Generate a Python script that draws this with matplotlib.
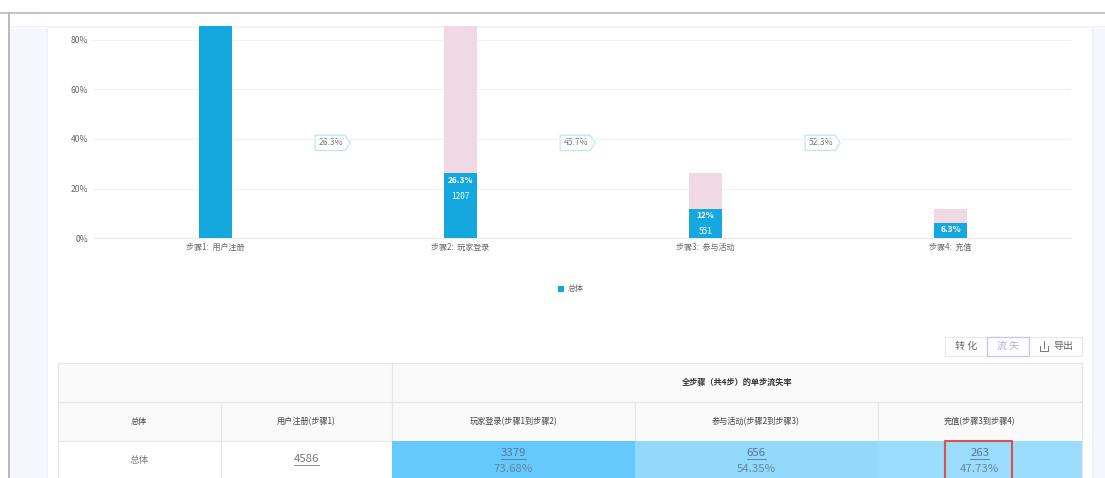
import matplotlib
matplotlib.use("Agg")
from matplotlib import pyplot as plt
from matplotlib.patches import Polygon, Rectangle

plt.rcParams['font.family'] = ['Noto Sans CJK SC', 'DejaVu Sans']

steps = ["步骤1:  用户注册", "步骤2:  玩家登录", "步骤3:  参与活动", "步骤4:  充值"]
overall = [100, 26.3, 12, 6.3]
previous = [100, 100, 26.3, 12]
bar_labels = [None, "26.3%", "12%", "6.3%"]
bar_counts = [None, "1207", "551", None]
tags = ["26.3%", "45.7%", "52.3%"]
yticks = [0, 20, 40, 60, 80]
legend_name = "总体"

table_title = "全步骤（共4步）的单步流失率"
col_x = [58, 220.5, 392, 634.5, 877.5, 1082]
col_heads = ["总体", "用户注册(步骤1)", "玩家登录(步骤1到步骤2)", "参与活动(步骤2到步骤3)", "充值(步骤3到步骤4)"]
row_name = "总体"
first_count = "4586"
loss_counts = ["3379", "656", "263"]
loss_rates = ["73.68%", "54.35%", "47.73%"]
loss_colors = ["#66c9fd", "#92d9fc", "#9bdcfd"]
buttons = ["转 化", "流 失", "导出"]

BLUE = "#14a8df"
PINK = "#f1d8e5"
GREY = "#777777"
LINE = "#e6e6e6"

fig = plt.figure(figsize=(11.05, 4.78), dpi=100)

# whole page in pixel coordinates, the chart axes go on top
page = fig.add_axes([0, 0, 1, 1], zorder=1)
page.set_xlim(0, 1105)
page.set_ylim(478, 0)
page.axis("off")


def box(x0, y0, x1, y1, color, ec="none", lw=0.0, zorder=1):
    page.add_patch(Rectangle((x0, y0), x1 - x0, y1 - y0, fc=color, ec=ec, lw=lw, zorder=zorder))


# page frame
box(8, 13, 48, 478, "#f6f7fe")
box(1092, 13, 1105, 478, "#f6f7fe")
box(45.5, 26, 48, 478, "#f0f1fa")
box(1092, 26, 1094, 478, "#eff0f9")
box(8, 13, 1105, 26, "white")
for i, c in enumerate(["#f4f4f6", "#f8f8fa", "#fcfcfd"]):
    box(8, 26 + i, 1105, 27 + i, c)
page.plot([0, 1105], [12.7, 12.7], color="#b4b4b4", lw=1.1)
page.plot([8.5, 8.5], [12.7, 478], color="#b9b9b9", lw=1.4)
page.text(14, 13.5, "· · ·", color="#bbbbbb", fontsize=5, va="center")

# chart
ax = fig.add_axes([93 / 1105, 1 - 238.3 / 478, 978 / 1105, 212.3 / 478], zorder=2)
ax.patch.set_alpha(0)
ax.set_xlim(-0.5, 3.492)
ax.set_ylim(0, 85.5)
ax.bar(range(4), previous, width=0.133, color=PINK, zorder=2)
ax.bar(range(4), overall, width=0.133, color=BLUE, zorder=3)
ax.set_yticks(yticks, [f"{v}%" for v in yticks])
ax.set_xticks(range(4), steps)
ax.tick_params(axis="y", length=0, labelsize=6.2, labelcolor="#666666", pad=3.5)
ax.tick_params(axis="x", length=0, labelsize=5.8, labelcolor="#666666", pad=3)
ax.grid(axis="y", color="#f1f1f3", lw=0.8, zorder=1)
ax.set_axisbelow(True)
for s in ax.spines.values():
    s.set_visible(False)
ax.spines["bottom"].set_visible(True)
ax.spines["bottom"].set_color("#e8e8ee")
ax.spines["bottom"].set_linewidth(0.8)
for i in range(4):
    if bar_labels[i]:
        ax.annotate(bar_labels[i], (i, overall[i]), xytext=(0, -5.2), textcoords="offset points",
                    ha="center", va="center", color="white", fontsize=6, fontweight="bold", zorder=4)
    if bar_counts[i]:
        ax.annotate(bar_counts[i], (i, overall[i]), xytext=(0, -16.6), textcoords="offset points",
                    ha="center", va="center", color="white", fontsize=6, zorder=4)

# arrow tags between the bars
fig.canvas.draw()
for i, tag in enumerate(tags):
    cx = ax.transData.transform((i + 0.478, 0))[0]
    y0, y1 = 135.2, 150.5
    x0, x1 = cx - 17.5, cx + 17.5
    page.add_patch(Polygon([(x0, y0), (x1 - 5, y0), (x1, (y0 + y1) / 2), (x1 - 5, y1), (x0, y1)],
                           closed=True, fc="white", ec="#bfe6f2", lw=0.9, zorder=5))
    page.text(cx - 1.5, 142.5, tag, ha="center", va="center", fontsize=6.2, color=GREY, zorder=6)

# legend
box(558, 286, 564, 292, BLUE)
page.text(567.5, 288.5, legend_name, fontsize=5.8, color="#666666", va="center")

# buttons
btn_x = [944.5, 987, 1028.5, 1082]
box(btn_x[0], 336.5, btn_x[3], 355.5, "white", ec="#e8e8e8", lw=0.8)
box(btn_x[1], 336.5, btn_x[2], 355.5, "white", ec="#c4c9f2", lw=1.0, zorder=2)
page.text(966, 346, buttons[0], fontsize=7.2, color="#666666", ha="center", va="center")
page.text(1008, 346, buttons[1], fontsize=7.2, color="#a9b2ee", ha="center", va="center", zorder=3)
page.text(1053, 346, buttons[2], fontsize=7.2, color="#666666", ha="left", va="center")
page.plot([1040, 1040, 1048, 1048], [346, 351, 351, 346], color="#777777", lw=0.7)
page.plot([1044, 1044], [341, 348], color="#777777", lw=0.7)

# table
top, mid, low, bottom = 362.5, 401.5, 440.8, 478
box(col_x[0], top, col_x[5], low, "#fafafa", zorder=1)
page.plot([col_x[0], col_x[5]], [top, top], color=LINE, lw=0.9, zorder=1)
page.plot([col_x[0], col_x[5]], [mid, mid], color=LINE, lw=0.9, zorder=1)
page.plot([col_x[0], col_x[5]], [low, low], color=LINE, lw=0.9, zorder=1)
page.plot([col_x[0], col_x[0]], [top, bottom], color=LINE, lw=0.9, zorder=1)
page.plot([col_x[5], col_x[5]], [top, bottom], color=LINE, lw=0.9, zorder=1)
page.plot([col_x[2], col_x[2]], [top, low], color=LINE, lw=0.9, zorder=1)
page.plot([col_x[2], col_x[2]], [low, bottom], color=LINE, lw=0.9, zorder=1)
for x in [col_x[1], col_x[3], col_x[4]]:
    page.plot([x, x], [mid, low], color=LINE, lw=0.9, zorder=1)
page.plot([col_x[1], col_x[1]], [low, bottom], color=LINE, lw=0.9, zorder=1)
for i in range(3):
    box(col_x[i + 2], low, col_x[i + 3], bottom, loss_colors[i], zorder=2)

page.text((col_x[2] + col_x[5]) / 2, 382, table_title, ha="center", va="center",
          fontsize=5.9, color="#333333", fontweight="bold", zorder=3)
for i, head in enumerate(col_heads):
    page.text((col_x[i] + col_x[i + 1]) / 2, 421.5, head, ha="center", va="center",
              fontsize=5.9, color="#444444", fontweight="medium", zorder=3)
page.text((col_x[0] + col_x[1]) / 2, 460, row_name, ha="center", va="center", fontsize=7, color="#808080")


def underlined(x, y, s, color):
    t = page.text(x, y, s, ha="center", va="center", fontsize=8.2, color=color, zorder=3)
    ext = t.get_window_extent(fig.canvas.get_renderer())
    page.plot([x - ext.width / 2, x + ext.width / 2], [y + 5.5, y + 5.5], color=color, lw=0.6, zorder=3)


underlined((col_x[1] + col_x[2]) / 2, 459.5, first_count, "#7a7a7a")
for i in range(3):
    cx = (col_x[i + 2] + col_x[i + 3]) / 2
    underlined(cx, 453.5, loss_counts[i], "#55789c")
    page.text(cx, 469, loss_rates[i], ha="center", va="center", fontsize=8.2, color="#64879c", zorder=3)

# red marker round the last cell
page.plot([944.5, 944.5, 1012, 1012], [479, 440.5, 440.5, 479], color="#d9534a", lw=1.5, zorder=4)

fig.savefig("out.png", dpi=100)
